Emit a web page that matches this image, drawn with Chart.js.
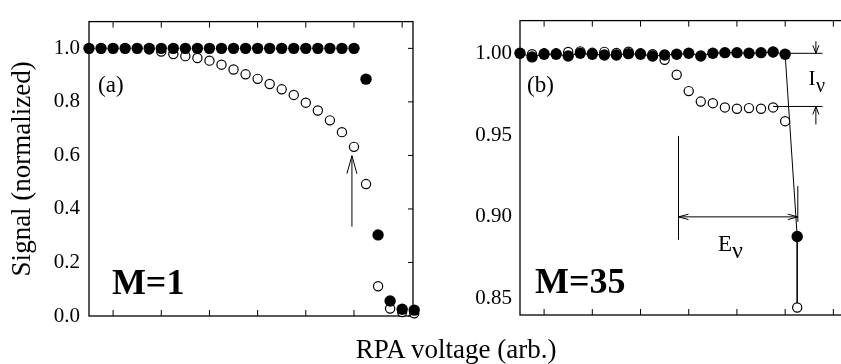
<!DOCTYPE html>
<html>
<head>
<meta charset="utf-8">
<script src="https://cdn.jsdelivr.net/npm/chart.js@4.4.1/dist/chart.umd.min.js"></script>
<style>
  html, body { margin: 0; padding: 0; background: #fff; }
  #wrap { position: relative; width: 841px; height: 364px; overflow: hidden; font-family: "Liberation Serif", serif; }
  #panelA { position: absolute; left: 0; top: 0; }
  #panelB { position: absolute; left: 420px; top: 0; }
  #xtitle { position: absolute; left: 456px; top: 336px; transform: translateX(-50%);
            font-size: 27px; line-height: 27px; white-space: nowrap; color: #000; }
</style>
</head>
<body>
<div id="wrap">
  <canvas id="panelA" width="425" height="364"></canvas>
  <canvas id="panelB" width="430" height="364"></canvas>
  <div id="xtitle">RPA voltage (arb.)</div>
</div>
<script>
// sweep steps (arbitrary voltage units)
const stepsA = [0, 1, 2, 3, 4, 5, 6, 7, 8, 9, 10, 11, 12, 13, 14, 15, 16, 17, 18, 19, 20, 21, 22, 23, 24, 25, 26, 27];
const stepsB = [0, 1, 2, 3, 4, 5, 6, 7, 8, 9, 10, 11, 12, 13, 14, 15, 16, 17, 18, 19, 20, 21, 22, 23];
const xTicks = [2, 6, 10, 14, 18, 22, 26];

// (a) M=1
const m1Filled = [1.0, 1.0, 1.0, 1.0, 1.0, 1.0, 1.0, 1.0, 1.0, 1.0, 1.0, 1.0, 1.0, 1.0, 1.0, 1.0, 1.0, 1.0, 1.0, 1.0,
                  1.0, 1.0, 1.0, 0.885, 0.303, 0.056, 0.025, 0.022];
const m1Open = [1.0, 1.0, 1.0, 1.0, 1.0, 0.996, 0.988, 0.979, 0.971, 0.964, 0.954, 0.939, 0.921, 0.903, 0.886, 0.867,
                0.847, 0.826, 0.797, 0.768, 0.731, 0.687, 0.632, 0.493, 0.111, 0.028, 0.015, 0.010];

// (b) M=35
const m35Filled = [1.0, 0.9978, 0.9994, 0.9994, 0.9984, 1.0, 0.9994, 0.999, 0.999, 0.9998, 0.9994, 0.9984,
                   0.999, 0.9994, 1.0, 0.9984, 1.0, 1.0004, 1.0004, 1.0, 1.0004, 1.0008, 0.9994, 0.888];
const m35Open = [1.0, 0.9995, 1.0, 1.0, 1.0008, 1.0012, 1.0003, 1.0009, 1.0002, 1.001, 1.0, 0.9995,
                 0.996, 0.9869, 0.9769, 0.9705, 0.9695, 0.9669, 0.9661, 0.9665, 0.9661, 0.9669, 0.9585, 0.8446];

// guide marks
const arrowA = { x: 21.83, from: 0.334, to: 0.599 };
const ivTop = 1.0, ivBottom = 0.9675, ivEnd = 25.1, ivArrowX = 24.55;
const evLeft = 13.15, evRight = 23.05, evLevel = 0.9;

const FONT = '"Liberation Serif", "Times New Roman", serif';

function pts(xs, ys) {
  return ys.map((y, i) => ({ x: xs[i], y }));
}

function seg(ctx, x1, y1, x2, y2) {
  ctx.beginPath();
  ctx.moveTo(x1, y1);
  ctx.lineTo(x2, y2);
  ctx.stroke();
}

// open V head, tip at (x, y), pointing along angle
function head(ctx, x, y, angle, len, half) {
  const c = Math.cos(angle), s = Math.sin(angle);
  ctx.beginPath();
  ctx.moveTo(x - len * c + half * s, y - len * s - half * c);
  ctx.lineTo(x, y);
  ctx.lineTo(x - len * c - half * s, y - len * s + half * c);
  ctx.stroke();
}

function text(ctx, str, x, y, size, bold) {
  ctx.font = (bold ? 'bold ' : '') + size + 'px ' + FONT;
  ctx.fillText(str, x, y);
  return ctx.measureText(str).width;
}

// box round the plot area with inward ticks
const framePlugin = {
  id: 'frame',
  beforeDatasetsDraw(chart, args, opts) {
    const { ctx, chartArea: a, scales: { x, y } } = chart;
    ctx.save();
    ctx.strokeStyle = '#000';
    ctx.lineWidth = 1.3;
    ctx.strokeRect(a.left, a.top, a.right - a.left, a.bottom - a.top);
    ctx.lineWidth = 1;
    ctx.beginPath();
    x.ticks.forEach(t => {
      const p = x.getPixelForValue(t.value);
      ctx.moveTo(p, a.top); ctx.lineTo(p, a.top + 6);
      ctx.moveTo(p, a.bottom); ctx.lineTo(p, a.bottom - 6);
    });
    if (opts.rightTicks) {
      y.ticks.forEach(t => {
        const p = y.getPixelForValue(t.value);
        ctx.moveTo(a.right, p); ctx.lineTo(a.right - 5, p);
      });
    }
    ctx.stroke();
    ctx.restore();
  }
};

const annotA = {
  id: 'annotA',
  afterDatasetsDraw(chart) {
    const { ctx, scales: { x, y } } = chart;
    ctx.save();
    ctx.strokeStyle = '#000';
    ctx.fillStyle = '#000';
    ctx.lineWidth = 1;
    const ax = x.getPixelForValue(arrowA.x);
    const tip = y.getPixelForValue(arrowA.to);
    seg(ctx, ax, y.getPixelForValue(arrowA.from), ax, tip);
    head(ctx, ax, tip, -Math.PI / 2, 18, 5);
    ctx.textBaseline = 'middle';
    text(ctx, '(a)', x.getPixelForValue(0.75), y.getPixelForValue(0.858), 23);
    ctx.textBaseline = 'alphabetic';
    text(ctx, 'M=1', x.getPixelForValue(1.9), y.getPixelForValue(0.084), 36, true);
    ctx.restore();
  }
};

const annotB = {
  id: 'annotB',
  afterDatasetsDraw(chart) {
    const { ctx, scales: { x, y } } = chart;
    const px = v => x.getPixelForValue(v), py = v => y.getPixelForValue(v);
    ctx.save();
    ctx.strokeStyle = '#000';
    ctx.fillStyle = '#000';
    ctx.lineWidth = 1;

    // I_nu: step between the two plateaus
    seg(ctx, px(22), py(ivTop), px(ivEnd), py(ivTop));
    seg(ctx, px(21), py(ivBottom), px(ivEnd), py(ivBottom));
    seg(ctx, px(ivArrowX), py(ivTop) - 12, px(ivArrowX), py(ivTop));
    head(ctx, px(ivArrowX), py(ivTop), Math.PI / 2, 8, 3);
    seg(ctx, px(ivArrowX), py(ivBottom) + 18, px(ivArrowX), py(ivBottom));
    head(ctx, px(ivArrowX), py(ivBottom), -Math.PI / 2, 8, 3);

    // E_nu: width between onset and cut-off
    seg(ctx, px(evLeft), py(0.9495), px(evLeft), py(0.886));
    seg(ctx, px(evRight), py(0.9188), px(evRight), py(0.897));
    seg(ctx, px(evLeft), py(evLevel), px(evRight), py(evLevel));
    head(ctx, px(evLeft), py(evLevel), Math.PI, 10, 2.7);
    head(ctx, px(evRight), py(evLevel), 0, 10, 2.7);

    ctx.textBaseline = 'alphabetic';
    let w = text(ctx, 'I', px(23.93), py(0.9805), 21);
    text(ctx, 'ν', px(23.93) + w + 0.5, py(0.9805) + 7, 20);
    w = text(ctx, 'E', px(16.42), py(0.8789), 23);
    text(ctx, 'ν', px(16.42) + w, py(0.8789) + 7, 24);

    ctx.textBaseline = 'middle';
    text(ctx, '(b)', px(0.58), py(0.9799), 23);
    ctx.textBaseline = 'alphabetic';
    text(ctx, 'M=35', px(1.24), py(0.8534), 36, true);
    ctx.restore();
  }
};

function xScale() {
  return {
    type: 'linear', min: 0, max: 26.9,
    grid: { display: false, drawTicks: false },
    border: { display: false },
    ticks: { display: false },
    afterBuildTicks: s => { s.ticks = xTicks.map(v => ({ value: v })); }
  };
}

const tickFont = { family: FONT, size: 21 };

const filledStyle = { pointRadius: 5.7, pointBackgroundColor: '#000', pointBorderWidth: 0, clip: false };
const openStyle = { pointRadius: 4.6, pointBackgroundColor: '#fff', pointBorderColor: '#000', pointBorderWidth: 1.2, clip: false };

new Chart(document.getElementById('panelA'), {
  type: 'scatter',
  data: {
    datasets: [
      Object.assign({ label: 'filled', data: pts(stepsA, m1Filled) }, filledStyle),
      Object.assign({ label: 'open', data: pts(stepsA, m1Open) }, openStyle)
    ]
  },
  options: {
    responsive: false,
    animation: false,
    layout: { padding: { top: 16, right: 12, left: 0, bottom: 0 } },
    plugins: { legend: { display: false }, tooltip: { enabled: false }, frame: { rightTicks: true } },
    scales: {
      x: Object.assign(xScale(), { afterFit: s => { s.height = 48; } }),
      y: {
        min: 0, max: 1.1,
        grid: { display: false, drawTicks: false },
        border: { display: false },
        ticks: { stepSize: 0.2, includeBounds: false, padding: 9, color: '#000', font: tickFont,
                 callback: v => v.toFixed(1) },
        title: { display: true, text: 'Signal (normalized)', color: '#000',
                 font: { family: FONT, size: 27 }, padding: { top: 7, bottom: 0 } },
        afterFit: s => { s.width = 89; }
      }
    }
  },
  plugins: [framePlugin, annotA]
});

new Chart(document.getElementById('panelB'), {
  type: 'scatter',
  data: {
    datasets: [
      Object.assign({ label: 'filled', data: pts(stepsB, m35Filled), showLine: true, borderColor: '#000', borderWidth: 1 }, filledStyle),
      Object.assign({ label: 'open', data: pts(stepsB, m35Open) }, openStyle),
      { label: 'drop', data: [{ x: stepsB[23], y: m35Filled[23] }, { x: stepsB[23], y: m35Open[23] }],
        showLine: true, borderColor: '#000', borderWidth: 0.9, pointRadius: 0, clip: false }
    ]
  },
  options: {
    responsive: false,
    animation: false,
    layout: { padding: { top: 13, right: 4, left: 0, bottom: 0 } },
    plugins: { legend: { display: false }, tooltip: { enabled: false }, frame: { rightTicks: false } },
    scales: {
      x: Object.assign(xScale(), { afterFit: s => { s.height = 49; } }),
      y: {
        min: 0.84, max: 1.02,
        grid: { display: false, drawTicks: false },
        border: { display: false },
        ticks: { stepSize: 0.05, includeBounds: false, padding: 8, color: '#000', font: tickFont,
                 callback: v => v.toFixed(2) },
        afterFit: s => { s.width = 100; }
      }
    }
  },
  plugins: [framePlugin, annotB]
});
</script>
</body>
</html>
